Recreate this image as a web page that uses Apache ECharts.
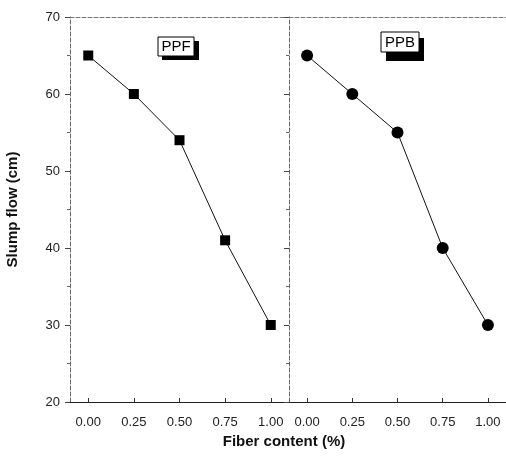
<!DOCTYPE html>
<html>
<head>
<meta charset="utf-8">
<script src="https://cdn.jsdelivr.net/npm/echarts@6/dist/echarts.min.js"></script>
<style>
  html, body { margin: 0; padding: 0; background: #fff; }
  #main { width: 506px; height: 462px; }
</style>
</head>
<body>
<div id="main"></div>
<script>
// data
var fiber = [0, 0.25, 0.5, 0.75, 1.0];
var ppf = [65, 60, 54, 41, 30];
var ppb = [65, 60, 55, 40, 30];
var xTicks = [0, 0.25, 0.5, 0.75, 1.0];

var myChart = echarts.init(document.getElementById('main'));

function pairs(xs, ys) {
  var out = [];
  for (var i = 0; i < xs.length; i++) out.push([xs[i], ys[i]]);
  return out;
}

function bottomAxis(idx) {
  return {
    gridIndex: idx,
    type: 'value',
    min: -0.1,
    max: 1.1,
    axisLine: { show: true, onZero: false, lineStyle: { color: '#222', width: 1 } },
    axisTick: { show: true, customValues: xTicks, length: 4, inside: true, lineStyle: { color: '#333' } },
    axisLabel: {
      customValues: xTicks,
      formatter: function (v) { return v.toFixed(2); },
      color: '#222', fontSize: 13, fontFamily: 'Arial', margin: 14
    },
    splitLine: { show: false }
  };
}

function topAxis(idx) {
  return {
    gridIndex: idx,
    type: 'value',
    position: 'top',
    min: -0.1,
    max: 1.1,
    axisLine: { show: true, onZero: false, lineStyle: { color: '#777', width: 1, type: 'dashed' } },
    axisTick: { show: false },
    axisLabel: { show: false },
    splitLine: { show: false }
  };
}

var option = {
  animation: false,
  grid: [
    { left: 70, right: 217, top: 17, bottom: 60 },
    { left: 289, right: 0, top: 17, bottom: 60 }
  ],
  xAxis: [bottomAxis(0), bottomAxis(1), topAxis(0), topAxis(1)],
  yAxis: [{
    gridIndex: 0,
    type: 'value',
    min: 20, max: 70, interval: 10,
    name: 'Slump flow (cm)',
    nameLocation: 'middle',
    nameGap: 50,
    nameTextStyle: { fontSize: 15, fontWeight: 'bold', fontFamily: 'Arial', color: '#111' },
    axisLine: { show: true, onZero: false, lineStyle: { color: '#666', type: 'dashed' } },
    axisTick: { show: true, length: 5, lineStyle: { color: '#444' } },
    minorTick: { show: true, splitNumber: 2, length: 3, lineStyle: { color: '#666' } },
    axisLabel: { color: '#222', fontSize: 13, fontFamily: 'Arial', margin: 10 },
    splitLine: { show: false }
  }, {
    gridIndex: 1,
    type: 'value',
    min: 20, max: 70, interval: 10,
    axisLine: { show: true, onZero: false, lineStyle: { color: '#666', type: 'dashed' } },
    axisTick: { show: true, length: 5, lineStyle: { color: '#444' } },
    minorTick: { show: true, splitNumber: 2, length: 3, lineStyle: { color: '#666' } },
    axisLabel: { show: false },
    splitLine: { show: false }
  }],
  series: [{
    name: 'PPF',
    type: 'line',
    xAxisIndex: 0, yAxisIndex: 0,
    data: pairs(fiber, ppf),
    symbol: 'rect',
    symbolSize: 10,
    itemStyle: { color: '#000' },
    lineStyle: { color: '#111', width: 1 }
  }, {
    name: 'PPB',
    type: 'line',
    xAxisIndex: 1, yAxisIndex: 1,
    data: pairs(fiber, ppb),
    symbol: 'circle',
    symbolSize: 12,
    itemStyle: { color: '#000' },
    lineStyle: { color: '#111', width: 1 }
  }],
  graphic: [
    // PPF label box with shadow
    { type: 'rect', shape: { x: 162, y: 41, width: 37, height: 19 }, style: { fill: '#000' } },
    { type: 'rect', shape: { x: 158, y: 37, width: 36, height: 19 }, style: { fill: '#fff', stroke: '#000', lineWidth: 1 } },
    { type: 'text', x: 176, y: 47, style: { text: 'PPF', fontSize: 15, fontFamily: 'Arial', fill: '#000', align: 'center', verticalAlign: 'middle' } },
    // PPB label box with shadow
    { type: 'rect', shape: { x: 386, y: 38, width: 38, height: 23 }, style: { fill: '#000' } },
    { type: 'rect', shape: { x: 381, y: 32, width: 38, height: 20 }, style: { fill: '#fff', stroke: '#000', lineWidth: 1 } },
    { type: 'text', x: 400, y: 43, style: { text: 'PPB', fontSize: 15, fontFamily: 'Arial', fill: '#000', align: 'center', verticalAlign: 'middle' } },
    // shared x axis title
    { type: 'text', x: 284, y: 442, style: { text: 'Fiber content (%)', fontSize: 15, fontWeight: 'bold', fontFamily: 'Arial', fill: '#111', align: 'center', verticalAlign: 'middle' } }
  ]
};
myChart.setOption(option);
</script>
</body>
</html>
